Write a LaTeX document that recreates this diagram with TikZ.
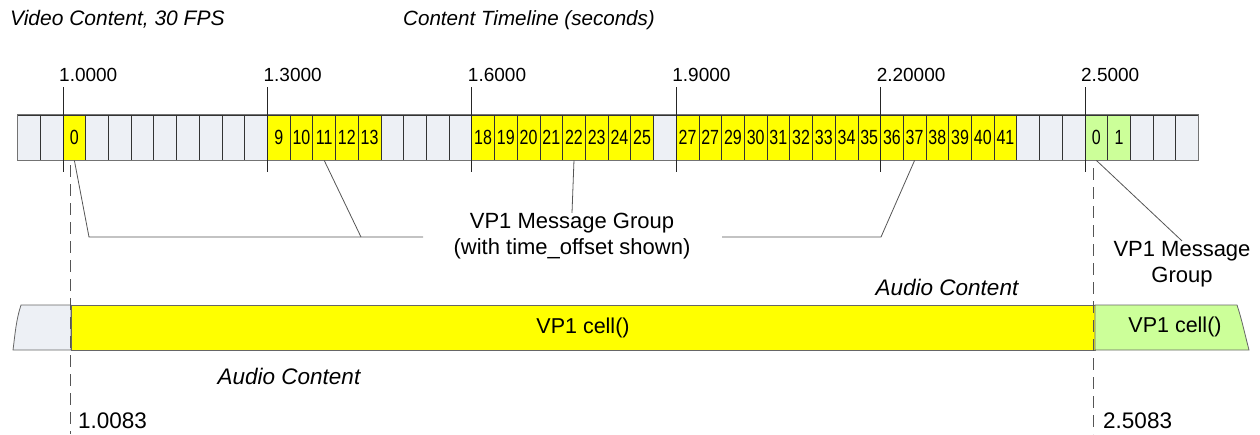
\documentclass[tikz,border=0pt]{standalone}
\usepackage{fontspec}
\setmainfont{Liberation Sans}
\newfontfamily\narrowfont{Liberation Sans}[FakeStretch=0.78]
\definecolor{cgray}{HTML}{EDF0F5}
\definecolor{cyel}{HTML}{FFFF00}
\definecolor{cgrn}{HTML}{CCFF99}
\definecolor{lgray}{HTML}{555555}
\begin{document}
\begin{tikzpicture}[x=1pt,y=-1pt,
  cell/.style={draw=black!80, line width=0.7pt, minimum width=22.71pt, minimum height=45pt, inner sep=0pt, font=\narrowfont\fontsize{20.5}{20}\selectfont},
  G/.style={fill=cgray},
  Y/.style={fill=cyel},
  N/.style={fill=cgrn},
  ticktxt/.style={anchor=base west, inner sep=0pt, font=\fontsize{19}{22}\selectfont},
  bottxt/.style={anchor=base west, inner sep=0pt, font=\fontsize{22.5}{24}\selectfont},
  tickline/.style={draw=black!85, line width=0.8pt},
  callout/.style={draw=lgray, line width=0.8pt},
  ital/.style={inner sep=0pt, font=\itshape\fontsize{22.5}{24}\selectfont},
  titletxt/.style={anchor=base west, inner sep=0pt, font=\itshape\fontsize{20.6}{22}\selectfont},
  msg/.style={inner sep=0pt, align=center, font=\fontsize{22}{26}\selectfont},
  celltxt/.style={inner sep=0pt, font=\fontsize{21.5}{24}\selectfont},
  guide/.style={draw=lgray, line width=0.8pt, dash pattern=on 12pt off 7pt},
  audio/.style={draw=black!60, line width=0.8pt}
]
\useasboundingbox (0,0) rectangle (1260,434);

% titles
\node[titletxt, font=\itshape\fontsize{21}{22}\selectfont] (title1) at (10,25) {Video Content, 30 FPS};
\node[titletxt] (title2) at (403,25) {Content Timeline (seconds)};

% video cells
\foreach \k/\c/\t in {-2/G/,-1/G/,0/Y/0,1/G/,2/G/,3/G/,4/G/,5/G/,6/G/,7/G/,8/G/,
  9/Y/9,10/Y/10,11/Y/11,12/Y/12,13/Y/13,14/G/,15/G/,16/G/,17/G/,
  18/Y/18,19/Y/19,20/Y/20,21/Y/21,22/Y/22,23/Y/23,24/Y/24,25/Y/25,26/G/,
  27/Y/27,28/Y/27,29/Y/29,30/Y/30,31/Y/31,32/Y/32,33/Y/33,34/Y/34,35/Y/35,36/Y/36,
  37/Y/37,38/Y/38,39/Y/39,40/Y/40,41/Y/41,42/G/,43/G/,44/G/,45/N/0,46/N/1,47/G/,48/G/,49/G/}
{
  \node[cell, \c] (c\k) at ({63+(\k+0.5)*22.71},137.5) {\t};
}
\draw[draw=black!55, line width=0.8pt] (c-2.north west) rectangle (c49.south east);

% ticks
\foreach \i/\lab in {0/1.0000,9/1.3000,18/1.6000,27/1.9000,36/2.20000,45/2.5000}
{
  \coordinate (t\i) at ({63+\i*22.71},87);
  \coordinate (b\i) at ({63+\i*22.71},172);
  \draw[tickline] (t\i) -- (b\i);
  \node[ticktxt] (l\i) at ({63+\i*22.71-4},81) {\lab};
}

% message group callouts
\node[msg] (mg) at (572,236) {VP1 Message Group\\(with time\_offset shown)};
\node[msg] (mg2) at (1182,264) {VP1 Message\\Group};
\coordinate (h1) at (89,237);
\coordinate (h2) at (423,237);
\coordinate (h3) at (361,237);
\coordinate (h4) at (881,237);
\coordinate (h5) at (722,237);
\draw[callout] (c0.south) -- (h1) -- (h2);
\draw[callout] (c11.south) -- (h3);
\draw[callout] (c22.south) -- (mg.north);
\draw[callout] (c37.south) -- (h4) -- (h5);
\draw[callout] (c45.south) -- (mg2.north);

% audio strip
\path[audio, fill=cgray] (21,305) .. controls (16,320) and (15,335) .. (13,350) -- (71,350) -- (71,305) -- cycle;
\node[draw=black!60, line width=0.8pt, fill=cyel, minimum width=1024pt, minimum height=45pt, inner sep=0pt, font=\fontsize{21.5}{24}\selectfont] (cellY) at (583,327.5) {VP1 cell()};
\path[audio, fill=cgrn] (1095,305) -- (1237,305) .. controls (1242,320) and (1245,335) .. (1249,350) -- (1095,350) -- cycle;
\node[celltxt] (cellG) at (1175,327) {VP1 cell()};
\node[ital] (ac1) at (947,287) {Audio Content};
\node[ital] (ac2) at (289,376) {Audio Content};

% dashed guides
\coordinate (d1t) at (70.5,165);
\coordinate (d1b) at (70.5,434);
\coordinate (d2t) at (1093,168);
\coordinate (d2b) at (1093,434);
\draw[guide] (d1t) -- (d1b);
\draw[guide] (d2t) -- (d2b);
\node[bottxt] (v1) at (78,428) {1.0083};
\node[bottxt] (v2) at (1103,428) {2.5083};
\end{tikzpicture}
\end{document}
